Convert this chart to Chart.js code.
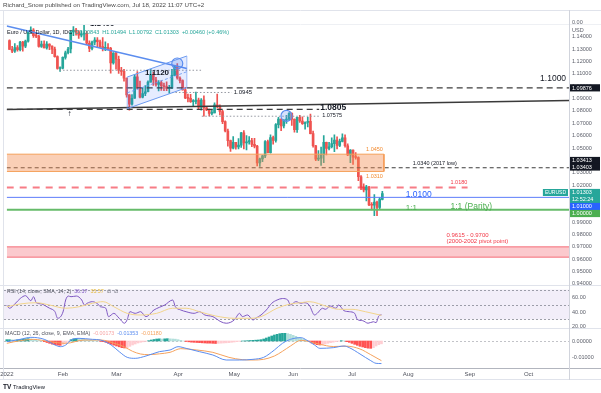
<!DOCTYPE html>
<html><head><meta charset="utf-8">
<script src="https://cdn.jsdelivr.net/npm/chart.js@4.4.1/dist/chart.umd.min.js"></script>
<style>
html,body{margin:0;padding:0;background:#fff;overflow:hidden}
#wrap{position:relative;width:601px;height:393px;background:#fff}
#wrap canvas{position:absolute;left:0;top:0}
</style></head><body>
<div id="wrap">
<canvas id="cMain" width="601" height="393"></canvas>
<canvas id="cRsi" width="601" height="393"></canvas>
<canvas id="cMacd" width="601" height="393"></canvas>
</div>
<script>
// ---------------- DATA ----------------
const opens = [1.1370,1.1299,1.1285,1.1313,1.1296,1.1359,1.1326,1.1366,1.1443,1.1455,
 1.1411,1.1406,1.1324,1.1343,1.1311,1.1343,1.1326,1.1301,1.1241,1.1144,
 1.1146,1.1234,1.1272,1.1302,1.1440,1.1456,1.1441,1.1415,1.1423,1.1427,
 1.1349,1.1307,1.1358,1.1374,1.1361,1.1322,1.1307,1.1309,1.1307,1.1190,
 1.1270,1.1219,1.1128,1.1121,1.1066,1.0930,1.0855,1.0903,1.1077,1.0984,
 1.0911,1.0942,1.0956,1.1034,1.1093,1.1051,1.1016,1.1030,1.1005,1.0997,
 1.0983,1.0984,1.1089,1.1159,1.1067,1.1046,1.0971,1.0905,1.0902,1.0876,
 1.0877,1.0888,1.0830,1.0888,1.0826,1.0808,1.0780,1.0785,1.0850,1.0835,
 1.0796,1.0714,1.0638,1.0560,1.0498,1.0545,1.0509,1.0523,1.0622,1.0541,
 1.0550,1.0561,1.0530,1.0515,1.0380,1.0412,1.0436,1.0552,1.0462,1.0585,
 1.0562,1.0689,1.0735,1.0678,1.0726,1.0733,1.0780,1.0733,1.0648,1.0749,
 1.0719,1.0697,1.0707,1.0716,1.0617,1.0518,1.0410,1.0417,1.0445,1.0545,
 1.0496,1.0510,1.0535,1.0565,1.0521,1.0554,1.0583,1.0518,1.0443,1.0484,
 1.0425,1.0423,1.0267,1.0183,1.0161,1.0185,1.0039,1.0036,1.0061,1.0019,
 1.0084];
const highs = [1.1377,1.1323,1.1347,1.1331,1.1365,1.1364,1.1375,1.1449,1.1482,1.1467,
 1.1434,1.1413,1.1366,1.1369,1.1363,1.1344,1.1329,1.1317,1.1247,1.1158,
 1.1239,1.1285,1.1316,1.1449,1.1483,1.1470,1.1451,1.1449,1.1495,1.1445,
 1.1368,1.1367,1.1395,1.1395,1.1374,1.1395,1.1361,1.1346,1.1316,1.1274,
 1.1275,1.1245,1.1153,1.1138,1.1066,1.0933,1.0932,1.1097,1.1120,1.1043,
 1.0988,1.1005,1.1044,1.1137,1.1114,1.1072,1.1046,1.1045,1.1027,1.1036,
 1.1008,1.1137,1.1168,1.1185,1.1076,1.1053,1.0991,1.0936,1.0935,1.0892,
 1.0954,1.0905,1.0900,1.0923,1.0838,1.0815,1.0810,1.0866,1.0936,1.0850,
 1.0806,1.0720,1.0654,1.0564,1.0593,1.0546,1.0577,1.0628,1.0642,1.0600,
 1.0593,1.0579,1.0578,1.0521,1.0418,1.0441,1.0560,1.0565,1.0606,1.0597,
 1.0697,1.0749,1.0737,1.0730,1.0765,1.0787,1.0785,1.0737,1.0750,1.0765,
 1.0753,1.0713,1.0749,1.0774,1.0637,1.0522,1.0480,1.0507,1.0601,1.0549,
 1.0546,1.0582,1.0606,1.0590,1.0572,1.0615,1.0606,1.0533,1.0487,1.0486,
 1.0463,1.0429,1.0276,1.0210,1.0197,1.0190,1.0058,1.0123,1.0070,1.0098,
 1.0149];
const lows = [1.1299,1.1272,1.1275,1.1285,1.1286,1.1284,1.1314,1.1358,1.1433,1.1397,
 1.1394,1.1318,1.1315,1.1311,1.1301,1.1296,1.1264,1.1236,1.1139,1.1121,
 1.1140,1.1219,1.1263,1.1270,1.1411,1.1414,1.1389,1.1401,1.1374,1.1337,
 1.1280,1.1295,1.1336,1.1313,1.1313,1.1286,1.1289,1.1295,1.1106,1.1180,
 1.1138,1.1104,1.1089,1.1042,1.0911,1.0806,1.0848,1.0902,1.0978,1.0905,
 1.0905,1.0925,1.0954,1.1034,1.1008,1.1002,1.0963,1.0966,1.0964,1.0965,
 1.0945,1.0980,1.1087,1.1057,1.1028,1.0968,1.0900,1.0874,1.0870,1.0837,
 1.0858,1.0819,1.0806,1.0757,1.0803,1.0761,1.0769,1.0785,1.0825,1.0768,
 1.0697,1.0630,1.0514,1.0472,1.0492,1.0491,1.0493,1.0505,1.0493,1.0484,
 1.0531,1.0510,1.0501,1.0354,1.0350,1.0389,1.0422,1.0460,1.0459,1.0531,
 1.0547,1.0662,1.0641,1.0663,1.0699,1.0724,1.0683,1.0628,1.0627,1.0707,
 1.0692,1.0653,1.0671,1.0614,1.0507,1.0398,1.0397,1.0359,1.0382,1.0443,
 1.0485,1.0500,1.0470,1.0492,1.0510,1.0550,1.0507,1.0437,1.0382,1.0366,
 1.0410,1.0236,1.0162,1.0144,1.0071,1.0033,0.9998,0.9952,0.9952,1.0007,
 1.0079];
const closes = [1.1299,1.1285,1.1313,1.1296,1.1359,1.1326,1.1366,1.1443,1.1455,1.1411,
 1.1406,1.1324,1.1343,1.1311,1.1343,1.1326,1.1301,1.1241,1.1144,1.1146,
 1.1234,1.1272,1.1302,1.1440,1.1456,1.1441,1.1415,1.1423,1.1427,1.1349,
 1.1307,1.1358,1.1374,1.1361,1.1322,1.1307,1.1309,1.1307,1.1190,1.1270,
 1.1219,1.1128,1.1121,1.1066,1.0930,1.0855,1.0903,1.1077,1.0984,1.0911,
 1.0942,1.0956,1.1034,1.1093,1.1051,1.1016,1.1030,1.1005,1.0997,1.0983,
 1.0984,1.1089,1.1159,1.1067,1.1046,1.0971,1.0905,1.0902,1.0876,1.0877,
 1.0888,1.0830,1.0888,1.0826,1.0808,1.0780,1.0785,1.0850,1.0835,1.0796,
 1.0714,1.0638,1.0560,1.0498,1.0545,1.0509,1.0523,1.0622,1.0541,1.0550,
 1.0561,1.0530,1.0515,1.0380,1.0412,1.0436,1.0552,1.0462,1.0585,1.0562,
 1.0689,1.0735,1.0678,1.0726,1.0733,1.0780,1.0733,1.0648,1.0749,1.0719,
 1.0697,1.0707,1.0716,1.0617,1.0518,1.0410,1.0417,1.0445,1.0545,1.0496,
 1.0510,1.0535,1.0565,1.0521,1.0554,1.0583,1.0518,1.0443,1.0484,1.0425,
 1.0423,1.0267,1.0183,1.0161,1.0185,1.0039,1.0036,1.0061,1.0019,1.0087,
 1.0130];

// RSI (14) and its SMA, read at bar indices
const rsiIdx = [0,1,3,5,7,9,10,11,13,15,16,18,19,21,22,23,24,26,28,29,30,32,34,35,37,38,40,42,44,45,46,48,50,52,55,57,59,62,63,65,67,70,72,74,77,80,82,85,87,88,90,92,93,95,97,99,101,103,105,106,108,110,111,113,115,116,118,119,121,123,124,126,128,130,131,133,135,137,138,139,140];
const rsiVal = [49,45,50.7,58,61.8,55,60.4,52.4,50.7,47,45,40.4,31.6,40,56,61.3,60.4,61.3,56,49.3,51.6,53.8,50.7,47,45,33.8,38.2,31.6,25,30,40.4,38.2,40.4,33.8,42.7,46.2,49.3,56,47,42.7,40.4,38.2,40.4,36,33.8,27,25,29.3,38.2,33.8,36,29.3,31.6,36,42.7,51.6,56,58,56,49.3,53.8,51.6,52.4,49.3,36,38.2,45,43.6,48,45,49.3,41.8,40.4,38.2,30,28.4,25,27,25.8,34.7,36.37];
const smaIdx = [0,5,11,16,22,27,32,36,40,45,50,56,62,67,72,78,85,91,95,101,106,110,113,120,124,129,134,140];
const smaVal = [47,50.7,52.4,49.3,45,47,51.6,53.8,47,38.2,36,38.2,45,45,40.4,34.7,31.6,31.6,33.8,45,50.7,52.4,53.8,47,43.6,43.6,40.4,35.57];

// MACD (12,26,9)
const macdIdx = [0,5,9,14,18,20,22,24,27,32,35,39,42,45,48,52,57,61,64,67,72,77,82,87,92,96,100,103,106,110,112,115,117,122,126,128,132,136,138,140];
const macdVal = [-0.0004,0.001,0.0022,0.001,-0.0024,-0.0034,-0.0024,0.0006,0.0016,0.001,0.0006,-0.0024,-0.0064,-0.0098,-0.0104,-0.009,-0.0064,-0.0054,-0.0034,-0.0044,-0.0064,-0.0084,-0.0114,-0.0114,-0.011,-0.0098,-0.0054,-0.0014,0.001,0.002,0.0006,-0.0024,-0.0044,-0.004,-0.003,-0.004,-0.0078,-0.0118,-0.0134,-0.01353];
const sigIdx = [0,5,10,16,22,29,35,41,44,47,50,53,57,61,65,71,77,83,88,92,96,100,103,106,110,113,117,122,127,132,136,140];
const sigVal = [-0.0014,0.0002,0.001,-0.0004,-0.0014,0.0006,0.0006,-0.0018,-0.0036,-0.0062,-0.0078,-0.0082,-0.0077,-0.0068,-0.0046,-0.0054,-0.0068,-0.0098,-0.0112,-0.0114,-0.011,-0.009,-0.0062,-0.003,0.0004,-0.0004,-0.002,-0.0033,-0.0031,-0.0048,-0.0082,-0.0118];
const histVal = [0.0008,0.0008,0.0007,0.0006,0.0007,0.0009,0.0011,0.0013,0.0014,0.0013,
 0.0010,0.0006,0.0003,0.0000,-0.0004,-0.0009,-0.0014,-0.0019,-0.0022,-0.0025,
 -0.0026,-0.0020,-0.0012,-0.0002,0.0008,0.0013,0.0016,0.0015,0.0013,0.0010,
 0.0007,0.0005,0.0004,0.0002,0.0001,-0.0002,-0.0004,-0.0008,-0.0014,-0.0020,
 -0.0025,-0.0030,-0.0035,-0.0040,-0.0042,-0.0040,-0.0032,-0.0024,-0.0018,-0.0012,
 -0.0008,-0.0005,-0.0002,0.0002,0.0006,0.0009,0.0012,0.0013,0.0012,0.0013,
 0.0014,0.0013,0.0012,0.0011,0.0008,0.0004,0.0000,-0.0003,-0.0005,-0.0007,
 -0.0008,-0.0009,-0.0010,-0.0011,-0.0012,-0.0013,-0.0013,-0.0014,-0.0015,-0.0014,
 -0.0013,-0.0012,-0.0011,-0.0010,-0.0008,-0.0006,-0.0004,-0.0002,0.0000,0.0001,
 0.0002,0.0003,0.0004,0.0005,0.0006,0.0008,0.0012,0.0018,0.0024,0.0030,
 0.0036,0.0040,0.0044,0.0046,0.0046,0.0044,0.0040,0.0034,0.0028,0.0022,
 0.0016,0.0010,0.0004,-0.0004,-0.0012,-0.0018,-0.0022,-0.0024,-0.0022,-0.0018,
 -0.0014,-0.0010,-0.0007,-0.0004,-0.0001,0.0002,0.0001,-0.0004,-0.0008,-0.0014,
 -0.0020,-0.0026,-0.0032,-0.0036,-0.0040,-0.0043,-0.0044,-0.0040,-0.0030,-0.0022,
 -0.0017];

// axis ticks / labels
const priceTicks = [0.94,0.95,0.96,0.97,0.98,0.99,1.00,1.01,1.02,1.03,1.04,1.05,1.06,1.07,1.08,1.09,1.10,1.11,1.12,1.13,1.14];
const rsiTicks = [20,40,60];
const macdTicks = [-0.01,0];
const monthIdx = [0,21,41,64,85,107,129,150,173,195];
const monthText = ["2022","Feb","Mar","Apr","May","Jun","Jul","Aug","Sep","Oct"];

// drawn levels (price, from bar, to bar)
const levelPrice = [1.09876,1.0813,1.1130,1.0950,1.07575,1.0340,1.0180,1.0100,1.0000];
const levelFrom  = [-1.05,-1.05,18.8,61,72.2,-1.05,-1.05,-1.05,-1.05];
const levelTo    = [210.1,116.3,72.2,83.4,116.3,210.1,172,210.1,210.1];
const orangeZone = [1.0450,1.0310]; const orangeZoneEnd = 140.6;
const pinkZone = [0.9700,0.9615];
const trendIdx = [-1.05,66.6]; const trendPrice = [1.1489,1.1144];
const supportIdx = [-1.05,210.1]; const supportPrice = [1.0812,1.0885];
const chanIdx = [44.2,66.6]; const chanUpper = [1.1075,1.12455]; const chanLower = [1.0819,1.09895]; const chanMid = [1.0947,1.1118];
const circleIdx = [63,104]; const circlePrice = [1.1185,1.0760];
const noteText = ["1.1400","1.1120","1.0945","1.0805","1.07575","1.1000","1.0450","1.0310","1.0340 (2017 low)","1.0180","1.0100","1:1","1:1 (Parity)","0.9615 - 0.9700","(2000-2002 pivot point)","↑"];
const noteIdx = [34.8,50.9,84.2,116.7,117.4,209,133.9,133.9,151.4,165.6,148.8,148.8,165.6,164.1,164.1,22.5];
const notePrice = [1.1507,1.1112,1.0951,1.0824,1.0763,1.1059,1.0488,1.0273,1.0374,1.0224,1.0119,1.0018,1.0022,0.9795,0.9741,1.0776];
const boxText = ["1.09876","1.03413","1.03403","1.01303","12:52:24","1.01000","1.00000"];
const boxPrice = [1.09876,1.03987,1.03460,1.01394,1.00827,1.00259,0.99692];
const legendLetters = ["O","H","L","C"];
const legendValues = ["1.00843","1.01494","1.00792","1.01303"];
const legendChange = "+0.00460 (+0.46%)";

// ---------------- STYLE / HELPERS ----------------
const FAM = '"Liberation Sans", Arial, sans-serif';
Chart.defaults.font.family = FAM;
const F = (s, w) => `${w || 'normal'} ${s}px ${FAM}`;
const UP = '#26A69A', DN = '#EF5350';
const X_MIN = -1.046, X_MAX = 210.09;
const xAxis = () => ({type: 'linear', min: X_MIN, max: X_MAX, display: false, offset: false, grid: {offset: false}});
function rightAxis(min, max, ticks, fmt) {
  return {position: 'right', min, max,
    afterFit: s => { s.width = 32; },
    afterBuildTicks: s => { s.ticks = ticks.map(v => ({value: v})); },
    grid: {display: false, drawTicks: false, tickLength: 0},
    border: {display: false},
    ticks: {padding: 3, font: {size: 5.5}, color: '#5d606b', autoSkip: false, callback: fmt}};
}
const baseOpts = (pad, y) => ({
  responsive: false, animation: false, events: [],
  layout: {padding: pad},
  plugins: {legend: {display: false}, tooltip: {enabled: false}},
  scales: {x: xAxis(), y}
});
const pts = (xs, ys) => xs.map((x, i) => ({x, y: ys[i]}));
const lineDs = (data, color, width, dash, extra) => Object.assign({type: 'line', data, borderColor: color, borderWidth: width, borderDash: dash || [], pointRadius: 0, fill: false, order: 1, tension: 0}, extra || {});

const noteStyle = [
  {s: 8, w: 'bold', c: '#131722', a: 'center'},
  {s: 8, w: 'bold', c: '#131722'},
  {s: 6, c: '#131722'},
  {s: 8.5, w: 'bold', c: '#131722'},
  {s: 5.5, c: '#131722'},
  {s: 8.5, c: '#131722', a: 'right'},
  {s: 5.5, c: '#F28B30'},
  {s: 5.5, c: '#F28B30'},
  {s: 5.5, c: '#131722'},
  {s: 5.5, c: '#F23645'},
  {s: 8.5, c: '#2962FF'},
  {s: 8, c: '#4CAF50'},
  {s: 8.5, c: '#4CAF50'},
  {s: 6, c: '#F23645'},
  {s: 6, c: '#F23645'},
  {s: 8, w: 'bold', c: '#131722', a: 'center'}
];
const boxColor = ['#131722','#131722','#131722',UP,UP,'#2962FF','#4CAF50'];
const levelStyle = [
  {c: '#3d3d3d', w: 1.3, d: [6,4]},
  {c: '#3d3d3d', w: 1.3, d: [6,4]},
  {c: '#9598a1', w: 1, d: [1.5,2]},
  {c: '#9598a1', w: 1, d: [1.5,2]},
  {c: '#9598a1', w: 1, d: [1.5,2]},
  {c: '#3d3d3d', w: 1.2, d: [4,3]},
  {c: 'rgba(242,54,69,0.65)', w: 2, d: [7,6]},
  {c: '#5C7CFA', w: 1, d: []},
  {c: '#66BB6A', w: 2, d: []}
];

// ---------------- MAIN CHART ----------------
const candleCol = closes.map((c, i) => c >= opens[i] ? UP : DN);
const mainSets = [];
mainSets.push({type: 'bar', data: highs.map((h, i) => ({x: i, y: [lows[i], h]})), backgroundColor: candleCol, barThickness: 1, grouped: false, order: 10});
mainSets.push({type: 'bar', data: closes.map((c, i) => ({x: i, y: [Math.min(opens[i], c), Math.max(opens[i], c)]})), backgroundColor: candleCol, barThickness: 2, minBarLength: 1, grouped: false, order: 9});
// orange zone
mainSets.push(lineDs(pts([X_MIN, orangeZoneEnd], [orangeZone[0], orangeZone[0]]), '#F5A15A', 1));
mainSets.push(lineDs(pts([X_MIN, orangeZoneEnd], [orangeZone[1], orangeZone[1]]), '#F5A15A', 1, [], {fill: '-1', backgroundColor: 'rgba(242,140,80,0.42)'}));
mainSets.push(lineDs(pts([orangeZoneEnd, orangeZoneEnd], orangeZone), '#F5A15A', 1));
// pink zone
mainSets.push(lineDs(pts([X_MIN, X_MAX], [pinkZone[0], pinkZone[0]]), 'rgba(242,54,69,0.45)', 1.5));
mainSets.push(lineDs(pts([X_MIN, X_MAX], [pinkZone[1], pinkZone[1]]), 'rgba(242,54,69,0.45)', 1.5, [], {fill: '-1', backgroundColor: 'rgba(242,54,69,0.27)'}));
// channel
mainSets.push(lineDs(pts(chanIdx, chanUpper), '#6C9AF0', 1));
mainSets.push(lineDs(pts(chanIdx, chanLower), '#6C9AF0', 1, [], {fill: '-1', backgroundColor: 'rgba(41,98,255,0.12)'}));
mainSets.push(lineDs(pts(chanIdx, chanMid), 'rgba(108,154,240,0.8)', 1, [3,2]));
mainSets.push(lineDs(pts([chanIdx[0], chanIdx[0]], [chanLower[0], chanUpper[0]]), 'rgba(108,154,240,0.6)', 1));
mainSets.push(lineDs(pts([chanIdx[1], chanIdx[1]], [chanLower[1], chanUpper[1]]), 'rgba(108,154,240,0.6)', 1));
// levels
levelPrice.forEach((p, i) => {
  const st = levelStyle[i];
  mainSets.push(lineDs(pts([levelFrom[i], levelTo[i]], [p, p]), st.c, st.w, st.d));
});
// trend + support lines
mainSets.push(lineDs(pts(trendIdx, trendPrice), '#5B8DEF', 1.4));
mainSets.push(lineDs(pts(supportIdx, supportPrice), '#3a3a3a', 1.5));
// circles
mainSets.push({type: 'line', showLine: false, data: pts(circleIdx, circlePrice), pointRadius: 5.5, pointBorderWidth: 1.2, pointBorderColor: '#5B8DEF', pointBackgroundColor: 'rgba(91,141,239,0.25)', order: 0});

function drawRow(ctx, x, y, parts, gap) {
  parts.forEach(([t, c]) => { ctx.fillStyle = c; ctx.fillText(t, x, y); x += ctx.measureText(t).width + gap; });
}

const mainDeco = {
  id: 'mainDeco',
  afterDatasetsDraw(chart) {
    const {ctx, chartArea: a, scales: {x, y}} = chart;
    ctx.save();
    ctx.beginPath(); ctx.rect(a.left, a.top, a.right - a.left, a.bottom - a.top); ctx.clip();
    ctx.textBaseline = 'middle';
    noteText.forEach((t, i) => {
      const st = noteStyle[i];
      ctx.font = F(st.s, st.w); ctx.fillStyle = st.c; ctx.textAlign = st.a || 'left';
      ctx.fillText(t, x.getPixelForValue(noteIdx[i]), y.getPixelForValue(notePrice[i]));
    });
    // symbol legend
    ctx.textAlign = 'left'; ctx.font = F(5.5);
    const parts = [["Euro / U.S. Dollar, 1D, IDC", '#131722']];
    legendLetters.forEach((l, i) => { parts.push([l + legendValues[i], UP]); });
    parts.push([legendChange, UP]);
    drawRow(ctx, 7, 32, parts, 3);
    // EURUSD tag at last price
    ctx.font = F(5);
    const tw = ctx.measureText('EURUSD').width + 4;
    const ly = y.getPixelForValue(boxPrice[3]);
    ctx.fillStyle = UP; ctx.fillRect(a.right - 1 - tw, ly - 3.5, tw, 7);
    ctx.fillStyle = '#fff'; ctx.fillText('EURUSD', a.right - 1 - tw + 2, ly + 0.3);
    ctx.restore();
    // axis tags
    ctx.save();
    ctx.font = F(5.5); ctx.textBaseline = 'middle'; ctx.textAlign = 'left';
    boxText.forEach((t, i) => {
      const py = y.getPixelForValue(boxPrice[i]);
      ctx.fillStyle = boxColor[i]; ctx.fillRect(a.right + 1, py - 3.6, 601 - a.right - 2, 7.2);
      ctx.fillStyle = '#fff'; ctx.fillText(t, a.right + 3, py + 0.3);
    });
    ctx.fillStyle = '#5d606b';
    ctx.fillText('0.00', a.right + 3, a.top - 2);
    ctx.fillStyle = '#fff'; ctx.fillRect(a.right + 1, a.top + 3, 30, 7);
    ctx.fillStyle = '#5d606b'; ctx.fillText('USD', a.right + 3, a.top + 6.5);
    ctx.restore();
  },
  afterDraw(chart) {
    const {ctx, chartArea: a} = chart;
    ctx.save();
    ctx.font = F(6.2); ctx.fillStyle = '#4a4a4a'; ctx.textBaseline = 'middle';
    ctx.fillText('Richard_Snow published on TradingView.com, Jul 18, 2022 11:07 UTC+2', 3, 5);
    const hl = (yy, c, x1) => { ctx.strokeStyle = c; ctx.lineWidth = 1; ctx.beginPath(); ctx.moveTo(0, yy); ctx.lineTo(x1 || 601, yy); ctx.stroke(); };
    hl(10.5, '#E0E3EB'); hl(a.top + 0.5, '#EEF0F4'); hl(285.5, '#E0E3EB'); hl(328.5, '#E0E3EB'); hl(368.5, '#B2B5BE'); hl(379.5, '#E0E3EB');
    ctx.strokeStyle = '#D1D4DC'; ctx.beginPath(); ctx.moveTo(a.right + 0.5, 10); ctx.lineTo(a.right + 0.5, 380); ctx.stroke();
    ctx.strokeStyle = '#E0E3EB'; ctx.beginPath(); ctx.moveTo(3.5, 10); ctx.lineTo(3.5, 380); ctx.stroke();
    ctx.restore();
  }
};

new Chart(document.getElementById('cMain'), {
  type: 'bar',
  data: {datasets: mainSets},
  options: baseOpts({left: 4, right: 0, top: 24, bottom: 107}, rightAxis(0.93817, 1.15049, priceTicks, v => v.toFixed(5))),
  plugins: [mainDeco]
});

// ---------------- RSI ----------------
const rsiBand = [70, 50, 30];
const rsiDeco = {
  id: 'rsiDeco',
  beforeDatasetsDraw(chart) {
    const {ctx, chartArea: a, scales: {y}} = chart;
    ctx.save();
    const yt = y.getPixelForValue(rsiBand[0]), yb = y.getPixelForValue(rsiBand[2]);
    ctx.fillStyle = 'rgba(126,87,194,0.10)'; ctx.fillRect(a.left, yt, a.right - a.left, yb - yt);
    ctx.strokeStyle = 'rgba(120,123,134,0.7)'; ctx.lineWidth = 1; ctx.setLineDash([2, 2]);
    rsiBand.forEach(v => { const yy = Math.round(y.getPixelForValue(v)) + 0.5; ctx.beginPath(); ctx.moveTo(a.left, yy); ctx.lineTo(a.right, yy); ctx.stroke(); });
    ctx.restore();
  },
  afterDatasetsDraw(chart) {
    const {ctx} = chart;
    ctx.save(); ctx.font = F(5.3); ctx.textBaseline = 'middle';
    drawRow(ctx, 7, 292, [["RSI (14, close, SMA, 14, 2)", '#50535E'], ["36.37", '#7E57C2'], ["35.57", '#E5B93A'], ["∅", '#50535E'], ["∅", '#50535E']], 3);
    ctx.restore();
  }
};
new Chart(document.getElementById('cRsi'), {
  type: 'line',
  data: {datasets: [
    {data: pts(smaIdx, smaVal), borderColor: '#F2D48A', borderWidth: 1, pointRadius: 0, tension: 0.4, cubicInterpolationMode: 'monotone'},
    {data: pts(rsiIdx, rsiVal), borderColor: '#7E57C2', borderWidth: 1, pointRadius: 0, tension: 0.3, cubicInterpolationMode: 'monotone'}
  ]},
  options: baseOpts({left: 4, right: 0, top: 286, bottom: 64}, rightAxis(17.3, 74.7, rsiTicks, v => v.toFixed(2))),
  plugins: [rsiDeco]
});

// ---------------- MACD ----------------
const histCol = histVal.map((h, i) => {
  const p = i ? histVal[i - 1] : h;
  if (h >= 0) return h >= p ? '#26A69A' : '#B2DFDB';
  return h <= p ? '#FF5252' : '#FFCDD2';
});
const macdDeco = {
  id: 'macdDeco',
  beforeDatasetsDraw(chart) {
    const {ctx, chartArea: a, scales: {y}} = chart;
    ctx.save();
    ctx.strokeStyle = 'rgba(120,123,134,0.45)'; ctx.lineWidth = 1; ctx.setLineDash([2, 2]);
    const yy = Math.round(y.getPixelForValue(0)) + 0.5;
    ctx.beginPath(); ctx.moveTo(a.left, yy); ctx.lineTo(a.right, yy); ctx.stroke();
    ctx.restore();
  },
  afterDatasetsDraw(chart) {
    const {ctx, scales: {x}} = chart;
    ctx.save(); ctx.font = F(5.3); ctx.textBaseline = 'middle';
    drawRow(ctx, 5, 334, [["MACD (12, 26, close, 9, EMA, EMA)", '#50535E'], ["-0.00173", '#F7A6A6'], ["-0.01353", '#5B8DEF'], ["-0.01180", '#F5A25D']], 3);
    ctx.font = F(6); ctx.fillStyle = '#50535E'; ctx.textAlign = 'center';
    monthIdx.forEach((m, i) => ctx.fillText(monthText[i], x.getPixelForValue(m), 374));
    ctx.textAlign = 'left'; ctx.fillStyle = '#131722';
    ctx.font = F(6.5, 'bold'); ctx.fillText('TV', 3, 387.5);
    ctx.font = F(5.8); ctx.fillText('TradingView', 13, 387.5);
    ctx.restore();
  }
};
new Chart(document.getElementById('cMacd'), {
  type: 'bar',
  data: {datasets: [
    {type: 'bar', data: histVal.map((h, i) => ({x: i, y: h})), backgroundColor: histCol, barThickness: 2, grouped: false, order: 3},
    {type: 'line', data: pts(sigIdx, sigVal), borderColor: '#F5A25D', borderWidth: 1, pointRadius: 0, tension: 0.4, cubicInterpolationMode: 'monotone', order: 2},
    {type: 'line', data: pts(macdIdx, macdVal), borderColor: '#5B8DEF', borderWidth: 1, pointRadius: 0, tension: 0.4, cubicInterpolationMode: 'monotone', order: 1}
  ]},
  options: baseOpts({left: 4, right: 0, top: 329, bottom: 25}, rightAxis(-0.0162, 0.0072, macdTicks, v => v.toFixed(5))),
  plugins: [macdDeco]
});
</script></body></html>
